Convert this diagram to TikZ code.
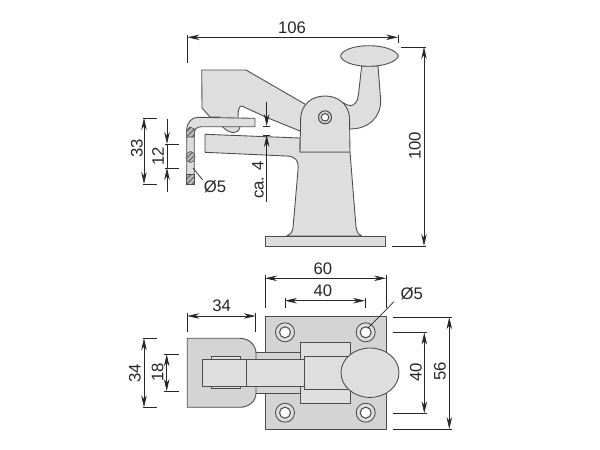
\documentclass[tikz,border=0pt]{standalone}
\usepackage{fontspec}
\setmainfont{Liberation Sans}
\usetikzlibrary{arrows.meta,patterns}
\definecolor{partgray}{gray}{0.87}
\definecolor{plategray}{gray}{0.83}
\definecolor{edgegray}{gray}{0.3}
\tikzset{
	part/.style={draw=edgegray, fill=partgray, line width=0.5pt, line join=round},
	plate/.style={part, fill=plategray},
	hatched/.style={draw=edgegray, line width=0.3pt, fill=gray!55, postaction={pattern=north east lines, pattern color=black!70}},
	dimline/.style={draw=black!85, line width=0.4pt},
	dimarrow/.style={dimline, {Stealth[length=2.4mm,width=1.1mm]}-{Stealth[length=2.4mm,width=1.1mm]}},
	tipin/.style={dimline, -{Stealth[length=2.4mm,width=1.1mm]}},
	dimtext/.style={font=\fontsize{9.5}{11}\selectfont, text=black!85, inner sep=0pt},
}
\begin{document}
\begin{tikzpicture}[x=0.02cm, y=-0.02cm]
	\useasboundingbox (0,0) rectangle (600,450);

	% Side view: handle and knob
	\draw[part] (338,100) .. controls (345,104) and (350,107) .. (353,105) .. controls (358,102) and (358,98) .. (359,90) -- (361.7,66) -- (378,66) -- (380.7,100) .. controls (381,118) and (368,129) .. (350,129) -- (340,129) -- cycle;
	\draw[part] (340.5,56) .. controls (342,50) and (354,45.7) .. (369,45.7) .. controls (384,45.7) and (396,50) .. (398.5,56) .. controls (396,62) and (384,66.3) .. (369,66.3) .. controls (354,66.3) and (342,62) .. (340.5,56) -- cycle;

	% Side view: upper jaw
	\draw[part] (201.7,70) -- (246,70) -- (310,107) -- (310,131) -- (300,131) -- (268,118) -- (241.7,106) .. controls (239,106) and (238,110) .. (238,117) -- (240,127) .. controls (238,135) and (230,134) .. (222.7,127) -- (220,117) -- (210,117) -- (202,108) -- cycle;

	% Side view: lower jaw and foot
	\draw[part] (205,134.3) -- (300,138) -- (300,152) -- (350,152) -- (356,227) .. controls (357,233) and (359,235) .. (361.7,236) -- (286.7,236) .. controls (290,235) and (292,233) .. (293,228) -- (298,170) .. controls (299,160) and (295,156) .. (286,156) -- (205,152.3) -- cycle;
	\draw[part] (265,236) rectangle (385,246);

	% Side view: pivot block
	\draw[part] (300,152) -- (300.7,117) .. controls (302,104) and (312,96) .. (325,96) .. controls (338,96) and (348,104) .. (349.5,117) -- (350,152) -- cycle;
	\draw[edgegray, line width=0.6pt, fill=white!70!gray] (325,117.3) circle (6.5);
	\draw[edgegray, line width=0.6pt, fill=white] (325,117.3) circle (3.8);

	% Side view: hook
	\draw[part] (186.7,184) -- (186.7,130) .. controls (187,122) and (192,117.3) .. (198,117.3) -- (255,118.3) -- (255,126.7) -- (201.7,126.7) .. controls (197,126.7) and (194.3,129) .. (194.3,133) -- (194.3,184) -- cycle;
	\draw[hatched] (186.7,137) -- (186.7,130.5) -- (190,127) -- (194.3,129) -- (194.3,137) -- cycle;
	\draw[hatched] (190.5,157) ellipse (4.5 and 5.5);
	\draw[hatched] (186.7,174) rectangle (194.3,184);

	% Side view: dimensions
	\draw[dimline] (187.5,35) -- (187.5,63);
	\draw[dimline] (398,35) -- (398,43);
	\draw[dimarrow] (187.5,37.3) -- (398,37.3);
	\node[dimtext] (width106) at (292,28) {106};
	\draw[dimline] (401,47) -- (426,47);
	\draw[dimline] (392,246) -- (426,246);
	\draw[dimarrow] (424,47) -- (424,246);
	\node[dimtext, rotate=90] (height100) at (415,146) {100};
	\draw[dimline] (143,118) -- (157,118);
	\draw[dimline] (143,184) -- (157,184);
	\draw[dimarrow] (144,118) -- (144,184);
	\node[dimtext, rotate=90] (hook33) at (137,148) {33};
	\draw[dimline] (165,144) -- (179,144);
	\draw[dimline] (165,168) -- (179,168);
	\draw[tipin] (167,119) -- (167,144);
	\draw[tipin] (167,192) -- (167,168);
	\draw[dimline] (167,144) -- (167,168);
	\node[dimtext, rotate=90] (hook12) at (158,156) {12};
	\draw[dimline] (193,168) -- (202.7,180);
	\node[dimtext] (holeside) at (215,187) {Ø5};
	\draw[tipin] (266.7,102) -- (266.7,126);
	\draw[tipin] (266.7,202) -- (266.7,135);
	\draw[dimline] (263,126) -- (270,126);
	\draw[dimline] (263,135) -- (270,135);
	\node[dimtext, rotate=90] (gap4) at (258,180) {ca. 4};

	% Top view: base plate and holes
	\draw[plate] (265,316.7) rectangle (386,429);
	\foreach \hx/\hy in {285/332.3, 365.7/332.3, 285/412.7, 365.7/412.7} {
		\draw[edgegray, line width=0.5pt, fill=partgray] (\hx,\hy) circle (9.5);
		\draw[edgegray, line width=0.6pt, fill=white] (\hx,\hy) circle (5.5);
	}

	% Top view: hook plate and bar
	\draw[part, fill=plategray] (250,352.5) rectangle (300,393);
	\draw[plate] (187.3,338.3) -- (240,338.3) .. controls (249,338.3) and (256,345) .. (256,353.3) -- (256,393.3) .. controls (256,401) and (249,407.3) .. (240,407.3) -- (187.3,407.3) -- cycle;
	\draw[part] (211.7,356.7) rectangle (240,388.7);
	\draw[part] (300,342.7) rectangle (350,403.3);
	\draw[part] (202.3,359) rectangle (246.7,386.7);
	\draw[part] (246.7,359) rectangle (304.3,386.7);
	\draw[part] (304.3,356) rectangle (350,389.3);
	\draw[part] (370,372.7) ellipse (29 and 24.7);

	% Top view: dimensions
	\draw[dimline] (187.3,313) -- (187.3,332);
	\draw[dimline] (255.7,313) -- (255.7,332);
	\draw[dimarrow] (187.3,316) -- (255.7,316);
	\node[dimtext] (reach34) at (221.7,306) {34};
	\draw[dimline] (143,338.3) -- (157,338.3);
	\draw[dimline] (143,407.3) -- (157,407.3);
	\draw[dimarrow] (144,338.3) -- (144,407.3);
	\node[dimtext, rotate=90] (plate34) at (135,373) {34};
	\draw[dimline] (164,354.3) -- (179,354.3);
	\draw[dimline] (164,391) -- (179,391);
	\draw[dimarrow] (166.7,354.3) -- (166.7,391);
	\node[dimtext, rotate=90] (bar18) at (157.7,372.7) {18};
	\draw[dimline] (265,275) -- (265,308);
	\draw[dimline] (386,275) -- (386,308);
	\draw[dimarrow] (265,278.3) -- (386,278.3);
	\node[dimtext] (plate60) at (323,268.3) {60};
	\draw[dimline] (285,298) -- (285,308);
	\draw[dimline] (365,298) -- (365,308);
	\draw[dimarrow] (285,300.7) -- (365,300.7);
	\node[dimtext] (holes40) at (323,291) {40};
	\draw[dimline] (394,301.7) -- (368,328);
	\node[dimtext] (holetop) at (411.7,293.3) {Ø5};
	\draw[dimline] (393,317.3) -- (451.7,317.3);
	\draw[dimline] (393,429) -- (451.7,429);
	\draw[dimarrow] (449.3,317.3) -- (449.3,429);
	\node[dimtext, rotate=90] (plate56) at (440,371.7) {56};
	\draw[dimline] (393,332.7) -- (426.7,332.7);
	\draw[dimline] (393,413.3) -- (426.7,413.3);
	\draw[dimarrow] (424.3,332.7) -- (424.3,413.3);
	\node[dimtext, rotate=90] (holesv40) at (416,372.3) {40};
\end{tikzpicture}
\end{document}
